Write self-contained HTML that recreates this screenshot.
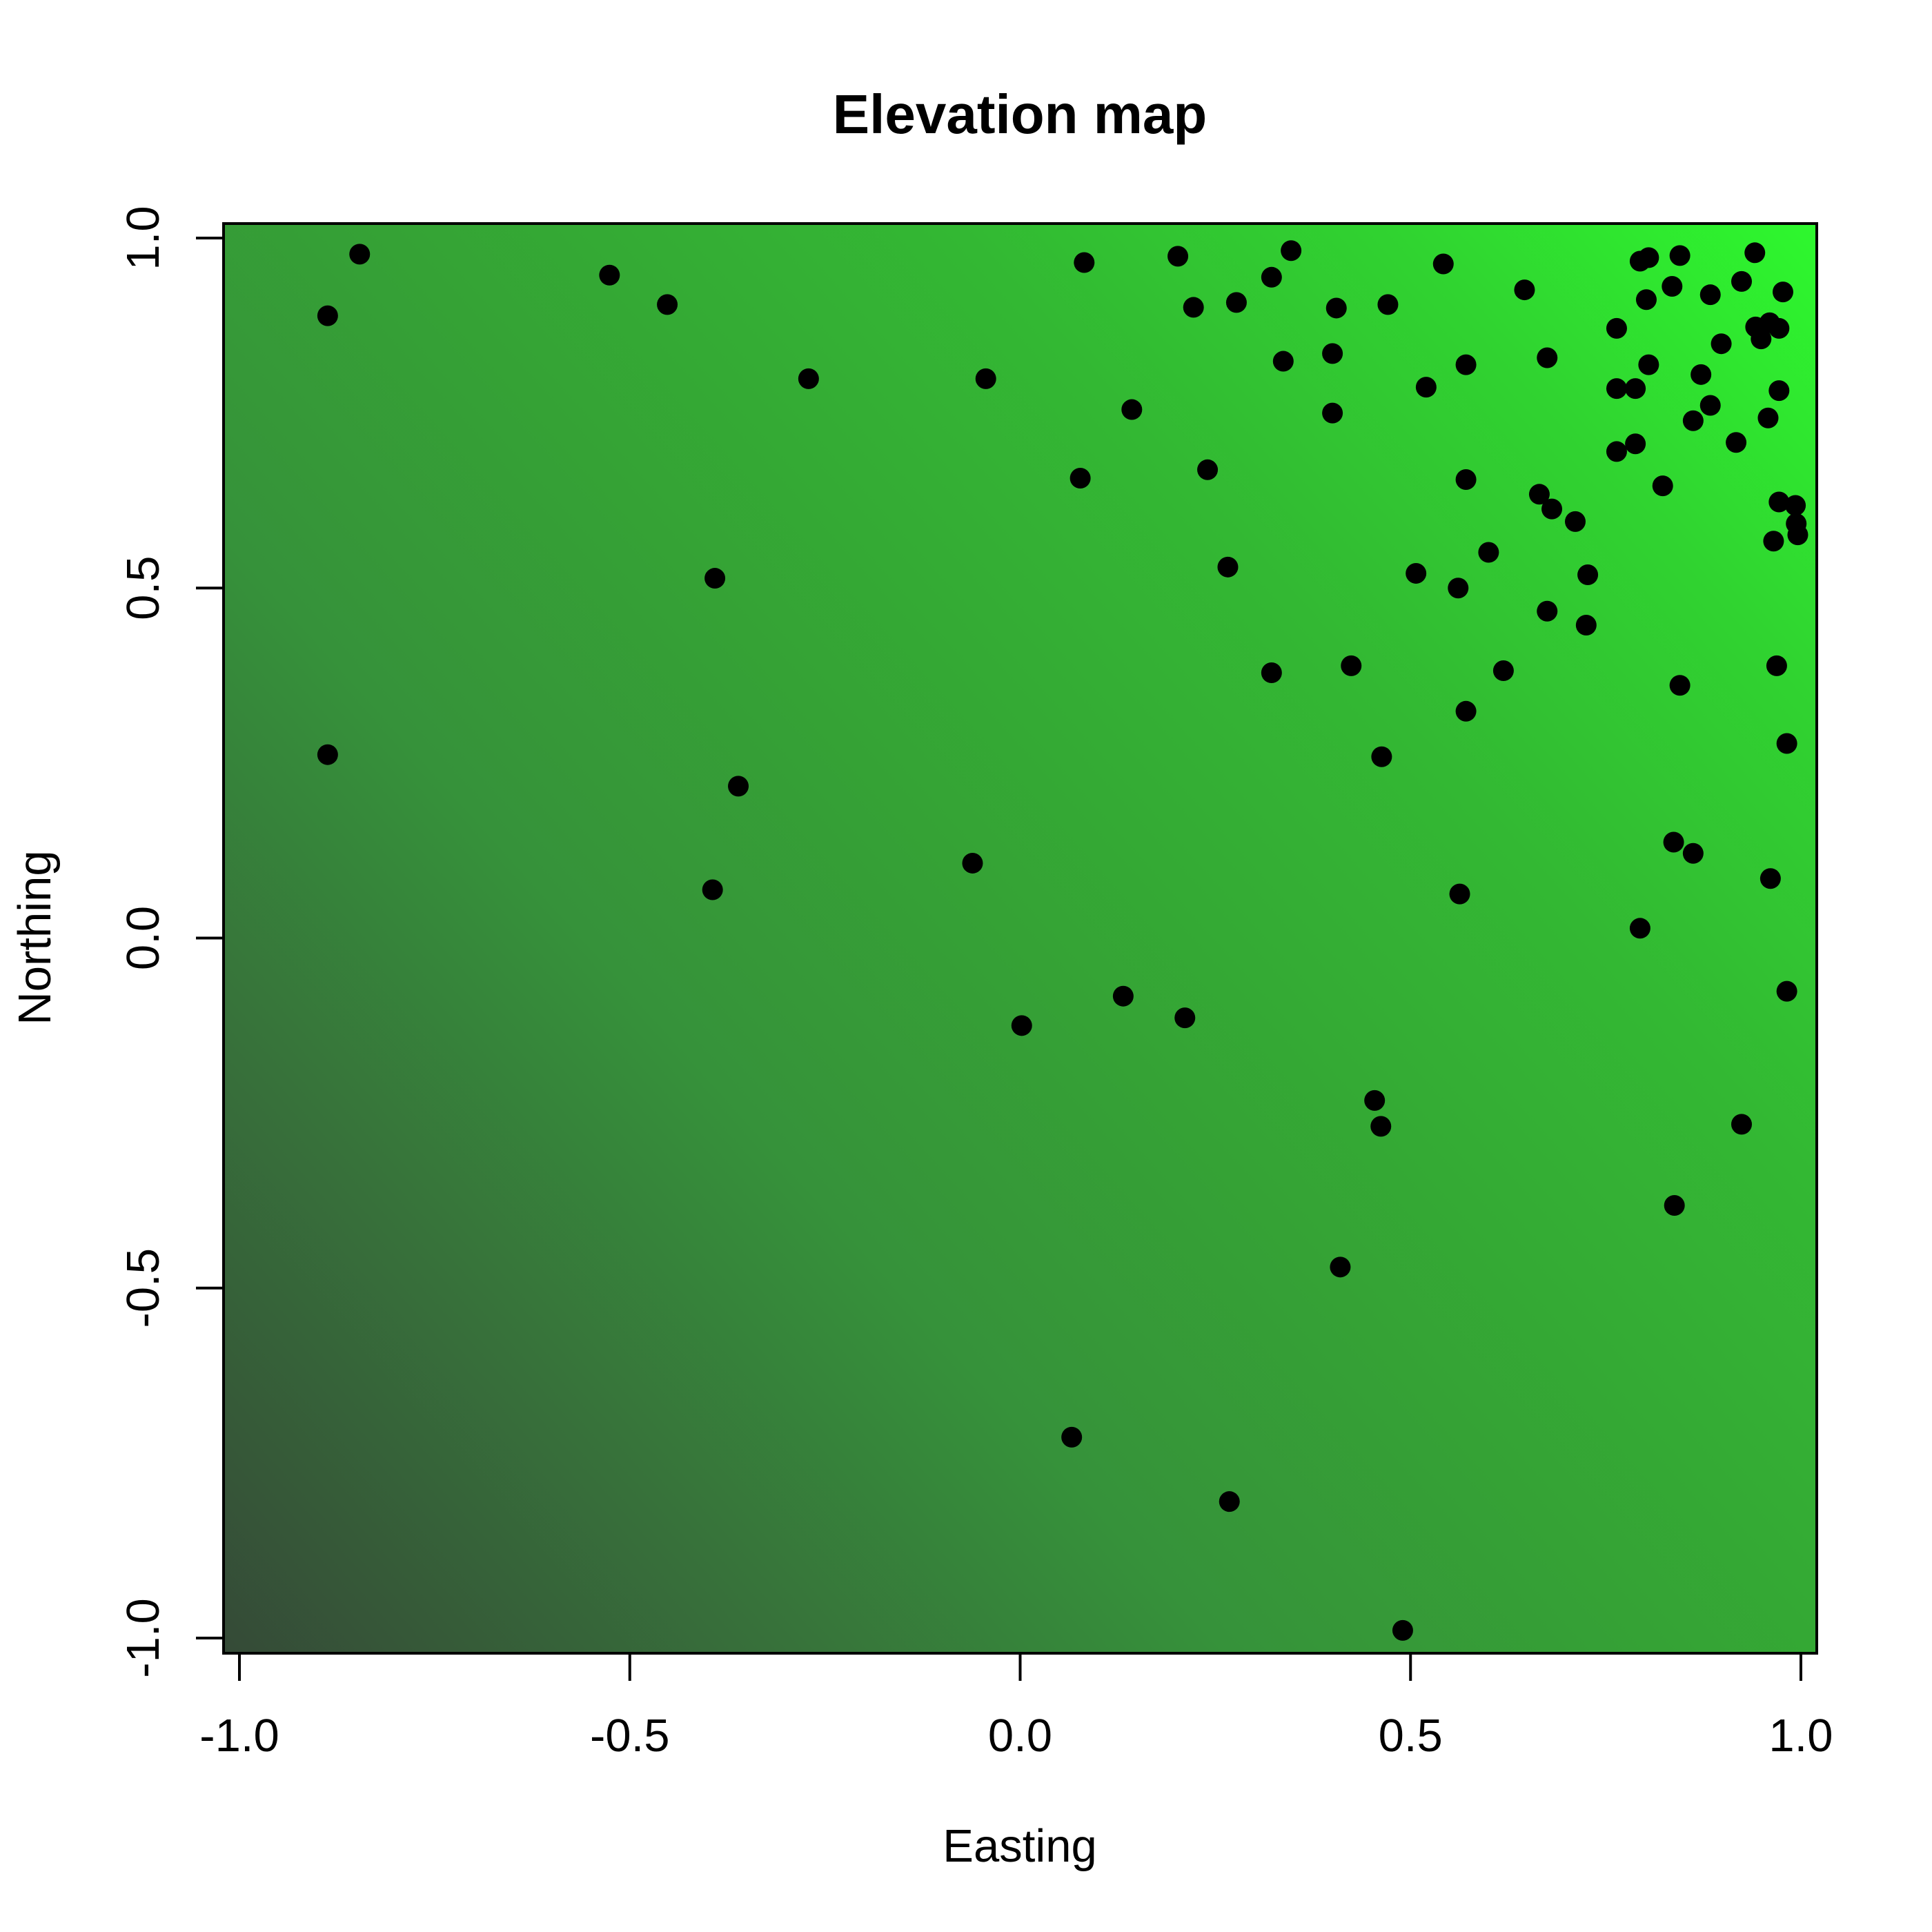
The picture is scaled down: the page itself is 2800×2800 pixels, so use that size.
<!DOCTYPE html>
<html><head><meta charset="utf-8"><style>
html,body{margin:0;padding:0;background:#fff}
svg{display:block;font-family:"Liberation Sans",Arial,sans-serif}
</style></head><body>
<svg id="chart" width="2800" height="2800" viewBox="0 0 2800 2800" xmlns="http://www.w3.org/2000/svg">
<defs>
<linearGradient id="elev" gradientUnits="userSpaceOnUse" x1="324" y1="2396" x2="2633" y2="324">
<stop offset="0" stop-color="#354a37"/>
<stop offset="0.19" stop-color="#37703a"/>
<stop offset="0.35" stop-color="#36923a"/>
<stop offset="0.5" stop-color="#35a235"/>
<stop offset="0.7" stop-color="#33b833"/>
<stop offset="0.85" stop-color="#30d330"/>
<stop offset="1" stop-color="#2ef82e"/>
</linearGradient>
</defs>
<rect x="324" y="324" width="2309" height="2072" fill="url(#elev)"/>
<g id="points"></g>
<rect x="324" y="324" width="2309" height="2072" fill="none" stroke="#000" stroke-width="4"/>
<g id="axes"></g>
<text x="1478" y="193" font-size="80" font-weight="bold" text-anchor="middle">Elevation map</text>
<text x="1478" y="2698" font-size="67" text-anchor="middle">Easting</text>
<text transform="translate(73,1359) rotate(-90)" font-size="67" text-anchor="middle">Northing</text>
</svg>
<script>
const eastings = [-0.846,-0.887,-0.526,-0.452,-0.271,-0.044,0.082,0.202,0.222,0.277,0.322,0.347,0.405,0.471,0.542,0.646,0.337,0.400,0.143,0.400,0.077,0.240,0.520,0.571,0.675,0.571,0.764,0.794,0.805,0.845,0.941,0.802,0.835,0.884,0.924,0.977,0.764,0.788,0.805,0.872,0.898,0.942,0.960,0.949,0.972,0.884,0.862,0.958,0.972,0.764,0.788,0.917,0.823,0.665,0.681,0.711,0.972,0.993,0.994,0.996,0.965,-0.391,0.266,0.507,0.561,0.600,0.727,0.675,0.725,0.322,0.424,0.619,0.845,0.969,0.571,0.982,-0.887,-0.361,0.463,-0.061,-0.394,0.563,0.837,0.862,0.961,0.794,0.982,0.132,0.002,0.211,0.454,0.462,0.924,0.838,0.410,0.066,0.268,0.490];
const northings = [0.977,0.889,0.947,0.905,0.799,0.799,0.965,0.974,0.901,0.908,0.944,0.982,0.900,0.905,0.963,0.926,0.824,0.835,0.755,0.750,0.657,0.669,0.787,0.819,0.829,0.655,0.871,0.967,0.972,0.975,0.979,0.912,0.931,0.919,0.938,0.923,0.785,0.785,0.819,0.805,0.849,0.873,0.879,0.856,0.871,0.761,0.739,0.743,0.782,0.695,0.706,0.708,0.646,0.634,0.613,0.595,0.623,0.618,0.592,0.576,0.567,0.514,0.530,0.521,0.500,0.551,0.519,0.467,0.447,0.379,0.389,0.382,0.361,0.389,0.324,0.278,0.262,0.217,0.259,0.107,0.069,0.063,0.137,0.121,0.085,0.014,-0.076,-0.083,-0.125,-0.114,-0.232,-0.269,-0.266,-0.382,-0.470,-0.713,-0.805,-0.989];
const xTicks = [-1.0,-0.5,0.0,0.5,1.0];
const yTicks = [-1.0,-0.5,0.0,0.5,1.0];
const xTickLabels = ["-1.0","-0.5","0.0","0.5","1.0"];
const yTickLabels = ["-1.0","-0.5","0.0","0.5","1.0"];

const NS = "http://www.w3.org/2000/svg";
function xScale(v){ return 1478.5 + v*1131.5; }
function yScale(v){ return 1359.5 - v*1014.5; }
const pg = document.getElementById('points');
for (let i=0;i<eastings.length;i++){
  const c = document.createElementNS(NS,'circle');
  c.setAttribute('cx', xScale(eastings[i]));
  c.setAttribute('cy', yScale(northings[i]));
  c.setAttribute('r', 15);
  c.setAttribute('fill', '#000');
  
  
  pg.appendChild(c);
}
const ag = document.getElementById('axes');
function line(x1,y1,x2,y2,name){
  const l = document.createElementNS(NS,'line');
  l.setAttribute('x1',x1);l.setAttribute('y1',y1);l.setAttribute('x2',x2);l.setAttribute('y2',y2);
  l.setAttribute('stroke','#000');l.setAttribute('stroke-width','4');
  
  
  ag.appendChild(l);
}
line(xScale(xTicks[0]),2396,xScale(xTicks[xTicks.length-1]),2396,'x-axis-line');
xTicks.forEach((t,i)=>{
  line(xScale(t),2396,xScale(t),2436,'x-tick');
  const tx = document.createElementNS(NS,'text');
  tx.setAttribute('x', xScale(t)); tx.setAttribute('y', 2538);
  tx.setAttribute('font-size','67'); tx.setAttribute('text-anchor','middle');
  tx.textContent = xTickLabels[i];
  
  
  ag.appendChild(tx);
});
line(324,yScale(yTicks[0]),324,yScale(yTicks[yTicks.length-1]),'y-axis-line');
yTicks.forEach((t,i)=>{
  line(284,yScale(t),324,yScale(t),'y-tick');
  const tx = document.createElementNS(NS,'text');
  tx.setAttribute('transform', 'translate(230,'+yScale(t)+') rotate(-90)');
  tx.setAttribute('font-size','67'); tx.setAttribute('text-anchor','middle');
  tx.textContent = yTickLabels[i];
  
  
  ag.appendChild(tx);
});
</script>
</body></html>
